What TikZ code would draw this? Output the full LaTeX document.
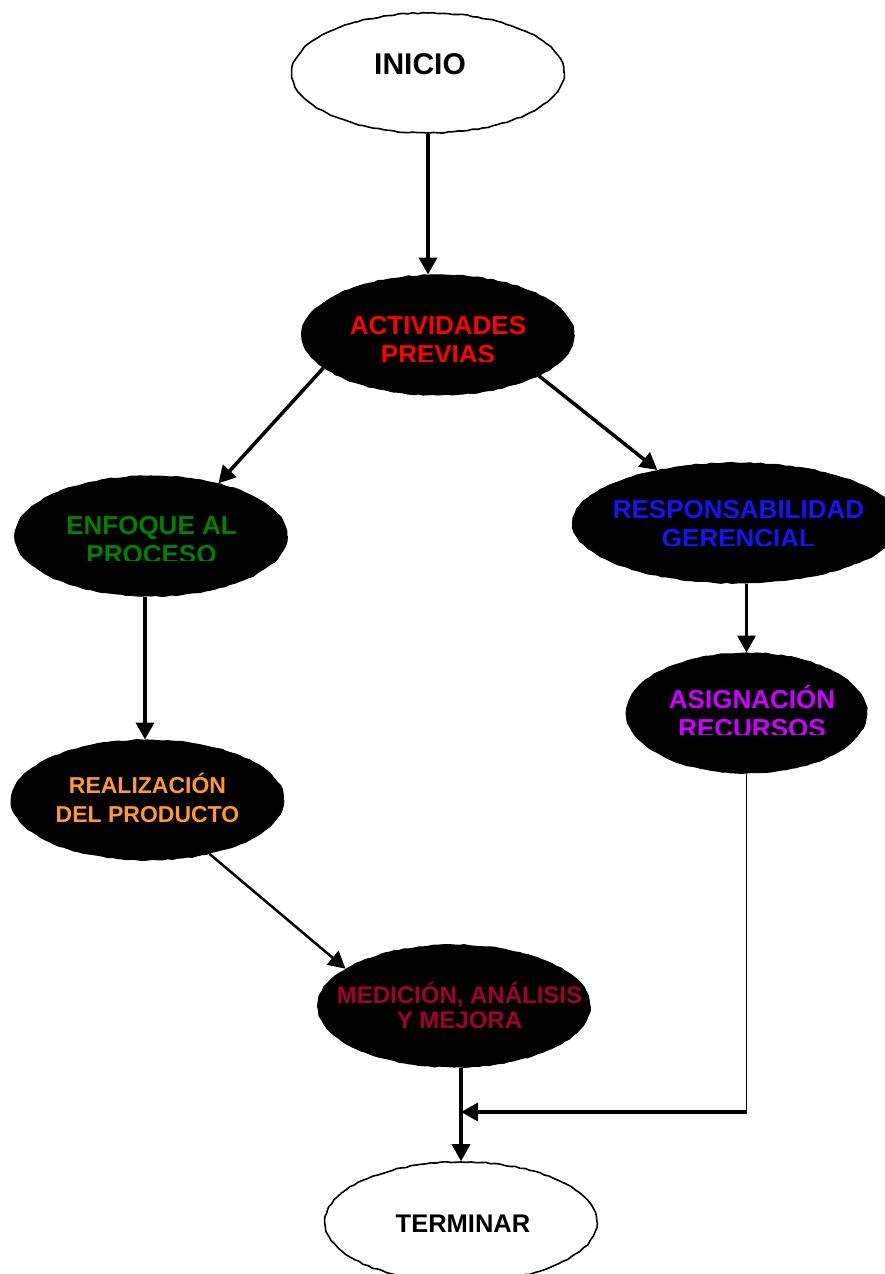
\documentclass[tikz,border=0pt]{standalone}
\usepackage{fontspec}
\setmainfont{Liberation Sans}
\usetikzlibrary{shapes.geometric,arrows.meta,decorations.pathmorphing}
\definecolor{actred}{RGB}{255,0,0}
\definecolor{enfgreen}{RGB}{0,128,0}
\definecolor{respblue}{RGB}{20,20,245}
\definecolor{asigpurple}{RGB}{204,0,255}
\definecolor{realorange}{RGB}{255,153,51}
\definecolor{medred}{RGB}{160,0,45}
\begin{document}
\begin{tikzpicture}[x=1pt,y=-1pt,
  oval/.style={ellipse, inner sep=0pt, minimum width=272pt, minimum height=120pt,
    decoration={random steps,segment length=5pt,amplitude=0.6pt}, decorate},
  openoval/.style={oval, draw=black, line width=1.6pt, fill=white},
  darkoval/.style={oval, draw=black, fill=black, line width=1pt},
  lbl/.style={font=\bfseries\fontsize{#1}{29}\selectfont, align=center, inner sep=0pt},
  flow/.style={line width=3.5pt, -{Triangle[length=17pt,width=18pt]}},
]
\pgfmathsetseed{7}
\useasboundingbox (0,0) rectangle (884,1274);

% ellipses
\node[openoval] (ini) at (428,73) {};
\node[darkoval] (act) at (438,335) {};
\node[darkoval] (enf) at (151,536) {};
\node[darkoval, minimum width=326pt] (resp) at (736,523) {};
\node[darkoval, minimum width=240pt] (asig) at (746.5,713) {};
\node[darkoval] (real) at (147.5,800) {};
\node[darkoval, minimum height=122pt] (med) at (454,1006) {};
\node[openoval] (term) at (461,1222) {};

% labels; the lower line of some is cut off at the bottom
\node[lbl=30] (ini-l) at (420,64) {INICIO};
\begin{scope}
  \clip (300,0) rectangle (580,361.5);
  \node[lbl=26, text=actred] (act-l) at (438,340.5) {ACTIVIDADES\\PREVIAS};
\end{scope}
\begin{scope}
  \clip (10,0) rectangle (290,560);
  \node[lbl=26, text=enfgreen] (enf-l) at (151.5,540.3) {ENFOQUE AL\\PROCESO};
\end{scope}
\begin{scope}
  \clip (570,0) rectangle (884,545);
  \node[lbl=26, text=respblue] (resp-l) at (738.5,524) {RESPONSABILIDAD\\GERENCIAL};
\end{scope}
\begin{scope}
  \clip (620,0) rectangle (870,734.5);
  \node[lbl=26, text=asigpurple] (asig-l) at (752,711.7) {ASIGNACIÓN\\RECURSOS};
\end{scope}
\node[lbl=23, text=realorange] (real-l) at (147.5,797.5) {REALIZACIÓN\\DEL PRODUCTO};
\node[font=\bfseries\fontsize{24}{25}\selectfont, align=center, inner sep=0pt, text=medred]
  (med-l) at (459.5,1005.7) {MEDICIÓN, ANÁLISIS\\Y MEJORA};
\node[lbl=25.5] (term-l) at (463,1224) {TERMINAR};

% connectors
\coordinate (rtop) at (real.north -| 145,0);
\draw[flow] (ini.south) -- (ini.south |- act.north);
\draw[flow] (act.196) -- (enf.38);
\draw[flow] (act.-22) -- (resp.146);
\draw[flow] (enf.south -| rtop) -- (rtop);
\draw[flow] (asig.north |- resp.south) -- (asig.north);
\draw[flow, line width=2.5pt] (real.-41) -- (med.161);
\draw[flow] (term.north |- med.south) -- (term.north);
\coordinate (mrg) at (term.north |- 0,1112);
\coordinate (turn) at (asig.south |- mrg);
\draw[line width=1.6pt] (asig.south) -- (turn);
\draw[flow] (turn) -- (mrg);
\end{tikzpicture}
\end{document}
